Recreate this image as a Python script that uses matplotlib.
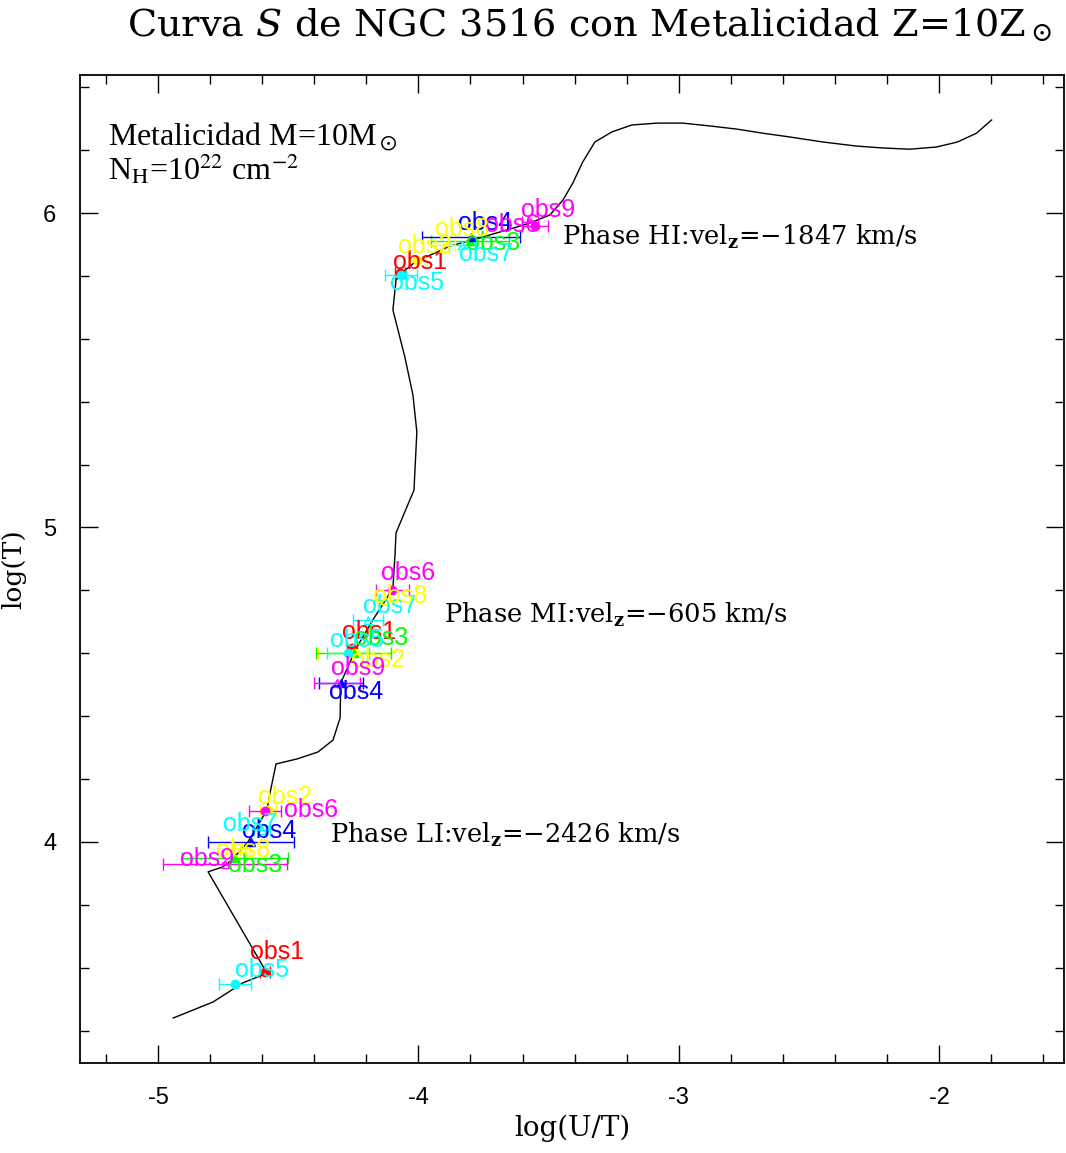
import numpy as np
import matplotlib
matplotlib.use("Agg")
import matplotlib.pyplot as plt
from matplotlib.ticker import MultipleLocator

plt.rcParams["mathtext.fontset"] = "dejavuserif"
plt.rcParams["axes.unicode_minus"] = False

# S-curve of thermal equilibrium: log(U/T) vs log(T)
curve_logUT = [-4.942, -4.789, -4.674, -4.616, -4.582, -4.808, -4.750, -4.716,
               -4.655, -4.620, -4.582, -4.570, -4.547, -4.466, -4.386, -4.328,
               -4.301, -4.298, -4.263, -4.232, -4.175, -4.121, -4.098, -4.090,
               -4.086, -4.017, -4.006, -4.021, -4.052, -4.098, -4.086, -4.060,
               -4.013, -3.879, -3.764, -3.649, -3.572, -3.495, -3.445, -3.407,
               -3.369, -3.322, -3.257, -3.180, -3.084, -2.985, -2.881, -2.777,
               -2.678, -2.574, -2.447, -2.317, -2.217, -2.113, -2.010, -1.929,
               -1.856, -1.798]
curve_logT = [3.440, 3.491, 3.552, 3.571, 3.583, 3.905, 3.921, 3.943,
              4.000, 4.048, 4.102, 4.156, 4.248, 4.264, 4.286, 4.324,
              4.394, 4.506, 4.572, 4.626, 4.706, 4.776, 4.808, 4.913,
              4.983, 5.119, 5.304, 5.421, 5.542, 5.692, 5.787, 5.812,
              5.844, 5.895, 5.921, 5.949, 5.968, 5.994, 6.041, 6.095,
              6.162, 6.226, 6.258, 6.280, 6.286, 6.286, 6.277, 6.267,
              6.254, 6.242, 6.226, 6.213, 6.207, 6.203, 6.210, 6.226,
              6.254, 6.296]

obs_names = ["obs1", "obs2", "obs3", "obs4", "obs5", "obs6", "obs7", "obs8", "obs9"]
obs_colors = ["red", "yellow", "lime", "blue", "cyan", "magenta", "cyan", "yellow", "magenta"]
obs_markers = ["o", "o", "^", "^", "o", "o", "^", "^", "^"]
obs_filled = [True, True, True, True, True, True, False, False, False]

# High-ionisation phase
hi_x = [-4.071, -4.006, -3.802, -3.798, -4.067, -3.553, -3.833, -3.898, -3.572]
hi_y = [5.809, 5.851, 5.911, 5.924, 5.803, 5.959, 5.898, 5.898, 5.971]
hi_xerr = [0.02, 0.03, 0.15, 0.19, 0.063, 0.05, 0.05, 0.04, 0.03]
hi_lab_dx = [20, 8, 23, 14, 16, -23, 24, 17, 18]
hi_lab_dy = [11, 14, -2, 14, -8, 1, -9, 16, 12]

# Medium-ionisation phase
mi_x = [-4.255, -4.244, -4.248, -4.298, -4.271, -4.100, -4.194, -4.129, -4.313]
mi_y = [4.617, 4.601, 4.601, 4.506, 4.601, 4.801, 4.706, 4.770, 4.506]
mi_xerr = [0.02, 0.14, 0.144, 0.085, 0.08, 0.064, 0.058, 0.03, 0.09]
mi_lab_dx = [17, 23, 27, 15, 9, 16, 22, 15, 21]
mi_lab_dy = [16, -7, 15, -9, 13, 17, 14, 4, 15]

# Low-ionisation phase
li_x = [-4.589, -4.578, -4.704, -4.643, -4.704, -4.589, -4.601, -4.678, -4.743]
li_y = [3.587, 4.102, 3.949, 4.000, 3.548, 4.099, 4.038, 3.981, 3.930]
li_xerr = [0.02, 0.03, 0.203, 0.165, 0.062, 0.063, 0.03, 0.03, 0.24]
li_lab_dx = [12, 17, 20, 18, 27, 46, -12, 1, -18]
li_lab_dy = [20, 13, -7, 11, 14, 1, 6, -2, 5]

phases = [
    (hi_x, hi_y, hi_xerr, hi_lab_dx, hi_lab_dy),
    (mi_x, mi_y, mi_xerr, mi_lab_dx, mi_lab_dy),
    (li_x, li_y, li_xerr, li_lab_dx, li_lab_dy),
]

phase_texts = [r"Phase HI:vel$_{\mathbf{z}}$=$-$1847 km/s",
               r"Phase MI:vel$_{\mathbf{z}}$=$-$605 km/s",
               r"Phase LI:vel$_{\mathbf{z}}$=$-$2426 km/s"]
phase_text_x = [-3.45, -3.90, -4.34]
phase_text_y = [5.924, 4.723, 4.022]

W, H = 1066, 1153
fig = plt.figure(figsize=(W / 100, H / 100), dpi=100)
ax = fig.add_axes([80 / W, 1 - 1063 / H, 984 / W, 988 / H])

ax.plot(curve_logUT, curve_logT, color="black", lw=1.0, zorder=2)

for px, py, pxerr, ldx, ldy in phases:
    for i in range(len(obs_names)):
        c = obs_colors[i]
        ax.errorbar(px[i], py[i], xerr=pxerr[i], fmt="none", ecolor=c,
                    elinewidth=1.0, capsize=4, capthick=1.0, zorder=3)
        ax.plot(px[i], py[i], marker=obs_markers[i], ms=6,
                mfc=c if obs_filled[i] else "none", mec=c, mew=1.0,
                ls="none", zorder=4)
    for i in range(len(obs_names)):
        ax.annotate(obs_names[i], (px[i], py[i]), xytext=(ldx[i], ldy[i]),
                    textcoords="offset pixels", ha="center", va="center",
                    color=obs_colors[i], fontsize=18, family="Liberation Sans",
                    zorder=5)

for t, tx, ty in zip(phase_texts, phase_text_x, phase_text_y):
    ax.text(tx, ty, t, fontsize=18.5, family="DejaVu Serif", ha="left",
            va="center", color="black")

ax.text(0.028, 0.937, r"Metalicidad M=10M$_\odot$", transform=ax.transAxes,
        fontsize=23, family="Liberation Serif", math_fontfamily="stix",
        va="center", ha="left")
ax.text(0.028, 0.904, r"N$_{\rm H}$=10$^{22}$ cm$^{-2}$", transform=ax.transAxes,
        fontsize=23, family="Liberation Serif", math_fontfamily="stix",
        va="center", ha="left")

ax.set_xlim(-5.30, -1.52)
ax.set_ylim(3.297, 6.439)
ax.xaxis.set_major_locator(MultipleLocator(1))
ax.xaxis.set_minor_locator(MultipleLocator(0.2))
ax.yaxis.set_major_locator(MultipleLocator(1))
ax.yaxis.set_minor_locator(MultipleLocator(0.2))
ax.tick_params(which="both", direction="in", top=True, right=True, width=1.0)
ax.tick_params(which="major", length=13, pad=17, labelsize=17)
ax.tick_params(which="minor", length=6.5)
for lab in ax.get_xticklabels() + ax.get_yticklabels():
    lab.set_family("Liberation Sans")
for s in ax.spines.values():
    s.set_linewidth(1.3)

ax.set_xlabel("log(U/T)", fontsize=20, family="DejaVu Serif", labelpad=4)
ax.set_ylabel("log(T)", fontsize=19, family="DejaVu Serif", labelpad=12)

fig.text(590 / W, 1 - 25 / H, r"Curva $S$ de NGC 3516 con Metalicidad Z=10Z$_\odot$",
         fontsize=27.5, family="DejaVu Serif", ha="center", va="center")

fig.savefig("out.png", dpi=100)
